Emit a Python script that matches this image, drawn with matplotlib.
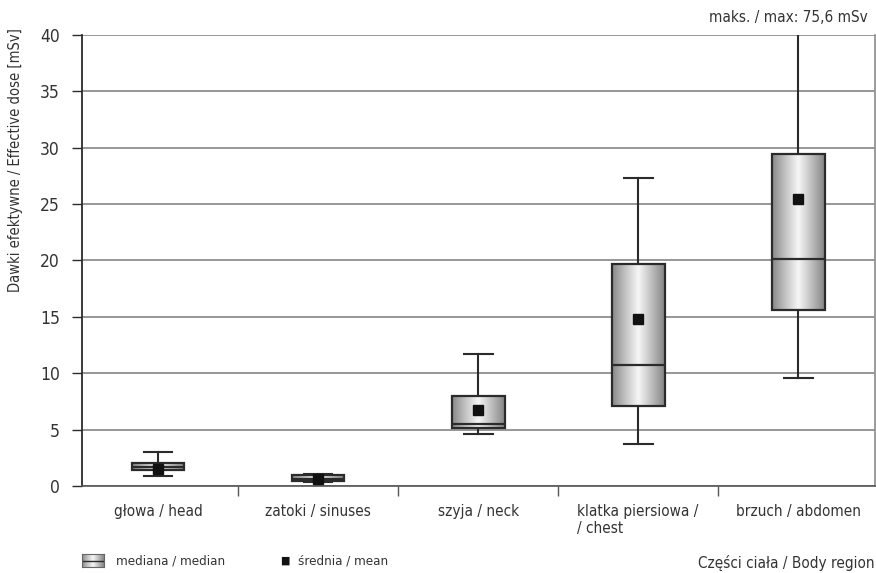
import numpy as np
import matplotlib
matplotlib.use('Agg')
import matplotlib.pyplot as plt
from matplotlib.colors import LinearSegmentedColormap

plt.rcParams['font.family'] = ['DejaVu Sans']
plt.rcParams['font.stretch'] = 'condensed'
plt.rcParams['text.color'] = '#333333'
plt.rcParams['xtick.labelcolor'] = '#333333'
plt.rcParams['ytick.labelcolor'] = '#333333'

# data (mSv)
regions = ['głowa / head', 'zatoki / sinuses', 'szyja / neck',
           'klatka piersiowa /\n/ chest', 'brzuch / abdomen']
whislo = [0.9, 0.35, 4.6, 3.7, 9.6]
q1 = [1.42, 0.45, 5.1, 7.1, 15.6]
med = [1.7, 0.6, 5.5, 10.7, 20.1]
q3 = [2.07, 0.95, 8.0, 19.7, 29.4]
whishi = [3.0, 1.1, 11.7, 27.3, 75.6]
means = [1.55, 0.6, 6.7, 14.8, 25.4]
yticks = [0, 5, 10, 15, 20, 25, 30, 35, 40]

dark = '#2b2b2b'
grad = LinearSegmentedColormap.from_list(
    'tube', ['#888888', '#c2c2c2', '#f6f6f6', '#bebebe', '#848484'])
strip = np.linspace(0, 1, 256).reshape(1, -1)

fig = plt.figure(figsize=(8.76, 5.73), dpi=100)
ax = fig.add_axes([82/876, 1-486/573, 793/876, (486-34.7)/573])

stats = []
for i in range(len(regions)):
    stats.append(dict(whislo=whislo[i], q1=q1[i], med=med[i], q3=q3[i],
                      whishi=whishi[i], mean=means[i], fliers=[]))

pos = np.arange(len(regions))
bw = 0.33
bp = ax.bxp(stats, positions=pos, widths=bw, patch_artist=True,
            showmeans=True, showfliers=False,
            boxprops=dict(facecolor='none', edgecolor=dark, linewidth=1.6),
            medianprops=dict(color=dark, linewidth=1.6),
            whiskerprops=dict(color=dark, linewidth=1.5),
            capprops=dict(color=dark, linewidth=1.5),
            meanprops=dict(marker='s', markerfacecolor='#111111',
                           markeredgecolor='#111111', markersize=7),
            capwidths=0.18, manage_ticks=False, zorder=3)

# gradient fill clipped to every box
for i, box in enumerate(bp['boxes']):
    im = ax.imshow(strip, cmap=grad, aspect='auto',
                   extent=[pos[i]-bw/2, pos[i]+bw/2, q1[i], q3[i]],
                   zorder=2.5, interpolation='bilinear')
    im.set_clip_path(box)

ax.set_xlim(-0.475, 4.48)
ax.set_ylim(0, 40)
ax.set_yticks(yticks)
ax.set_yticklabels([str(v) for v in yticks], fontsize=12.5)
ax.yaxis.grid(True, color='#7a7a7a', linewidth=1.1, zorder=0)
ax.set_axisbelow(True)
ax.tick_params(axis='y', length=7, width=1, color=dark, pad=9)

ax.set_xticks(pos)
ax.set_xticklabels(regions, fontsize=11, va='top', multialignment='left')
ax.tick_params(axis='x', length=0, pad=13)
ax.set_xticks(pos[:-1] + 0.5, minor=True)
ax.tick_params(axis='x', which='minor', length=7, width=1, color='#555555')

ax.spines['left'].set_color(dark)
ax.spines['left'].set_linewidth(1.3)
ax.spines['bottom'].set_color('#555555')
ax.spines['bottom'].set_linewidth(1.2)
ax.spines['top'].set_visible(False)
ax.spines['right'].set_color('#8a8a8a')
ax.spines['right'].set_linewidth(1.2)

fig.text(16/876, 1-28/573, 'Dawki efektywne / Effective dose [mSv]',
         rotation=90, ha='center', va='top', fontsize=10.5)
fig.text(868/876, 1-17/573, 'maks. / max: 75,6 mSv', ha='right',
         va='center', fontsize=11)
fig.text(875/876, 1-563/573, 'Części ciała / Body region', ha='right',
         va='center', fontsize=11)

# legend drawn by hand
lax = fig.add_axes([82/876, 1-567/573, 22/876, 13/573])
lax.imshow(strip, cmap=grad, aspect='auto', extent=[0, 1, 0, 1],
           interpolation='bilinear')
lax.axhline(0.5, color=dark, linewidth=1)
lax.set_xlim(0, 1)
lax.set_ylim(0, 1)
lax.set_xticks([])
lax.set_yticks([])
for s in lax.spines.values():
    s.set_color('#666666')
    s.set_linewidth(0.8)
fig.text(116/876, 1-561/573, 'mediana / median', va='center', fontsize=9.5)
fig.text(285/876, 1-561/573, '■', va='center', ha='center', fontsize=8,
         color='#111111')
fig.text(298/876, 1-561/573, 'średnia / mean', va='center', fontsize=9.5)

fig.savefig('out.png', dpi=100)
